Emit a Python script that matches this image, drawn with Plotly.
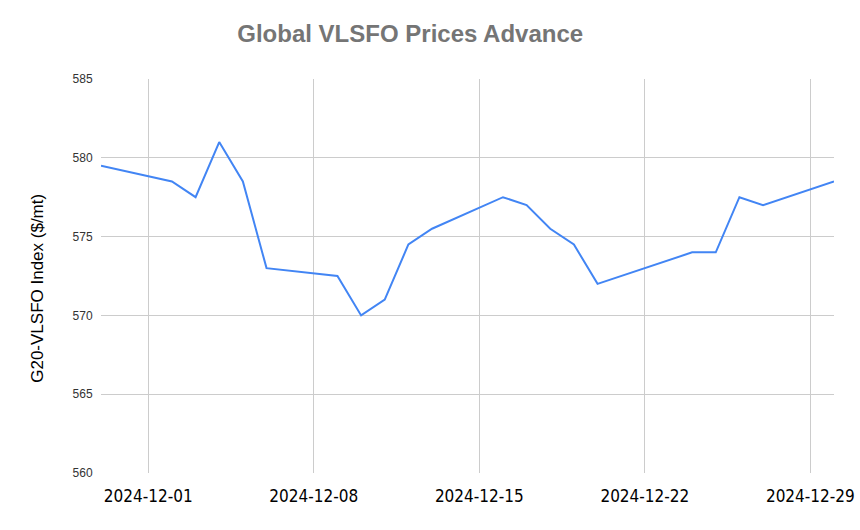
import plotly.graph_objects as go

dates = ["2024-11-29", "2024-12-02", "2024-12-03", "2024-12-04", "2024-12-05", "2024-12-06",
         "2024-12-09", "2024-12-10", "2024-12-11", "2024-12-12", "2024-12-13",
         "2024-12-16", "2024-12-17", "2024-12-18", "2024-12-19", "2024-12-20",
         "2024-12-24", "2024-12-25", "2024-12-26", "2024-12-27", "2024-12-30"]
prices = [579.5, 578.5, 577.5, 581, 578.5, 573,
          572.5, 570, 571, 574.5, 575.5,
          577.5, 577, 575.5, 574.5, 572,
          574, 574, 577.5, 577, 578.5]
x_ticks = ["2024-12-01", "2024-12-08", "2024-12-15", "2024-12-22", "2024-12-29"]
y_ticks = [560, 565, 570, 575, 580, 585]
y_title = "G20-VLSFO Index ($/mt)"

fig = go.Figure()
fig.add_trace(go.Scatter(x=dates, y=prices, mode="lines",
                         line=dict(color="#4285F4", width=2), hoverinfo="skip"))

fig.add_annotation(text=y_title, textangle=-90, xref="paper", yref="paper",
                   x=-0.086, y=0.47, xanchor="center", yanchor="middle", showarrow=False,
                   font=dict(family="Liberation Sans, Arial", size=17, color="#000000"))

fig.update_layout(
    width=860, height=530,
    margin=dict(l=101, r=26, t=79, b=57),
    paper_bgcolor="white", plot_bgcolor="white",
    showlegend=False,
    title=dict(text="<b>Global VLSFO Prices Advance</b>", x=0.477, xanchor="center",
               y=0.937, yanchor="middle",
               font=dict(family="Liberation Sans, Arial", size=24, color="#757575")),
    xaxis=dict(type="date", range=["2024-11-29", "2024-12-30"],
               tickvals=x_ticks, ticktext=x_ticks, automargin=False,
               showgrid=True, gridcolor="#cccccc", gridwidth=1,
               showline=False, zeroline=False, ticks="outside", ticklen=8, tickcolor="rgba(0,0,0,0)",
               tickfont=dict(family="DejaVu Sans Condensed, Liberation Sans", size=17, color="#000000")),
    yaxis=dict(range=[560, 585], tickvals=y_ticks, automargin=False,
               showgrid=True, gridcolor="#cccccc", gridwidth=1,
               showline=False, zeroline=False, ticks="outside", ticklen=5, tickcolor="rgba(0,0,0,0)",
               tickfont=dict(family="Liberation Sans, Arial", size=12, color="#333333")),
)

fig.write_html("out.html")
